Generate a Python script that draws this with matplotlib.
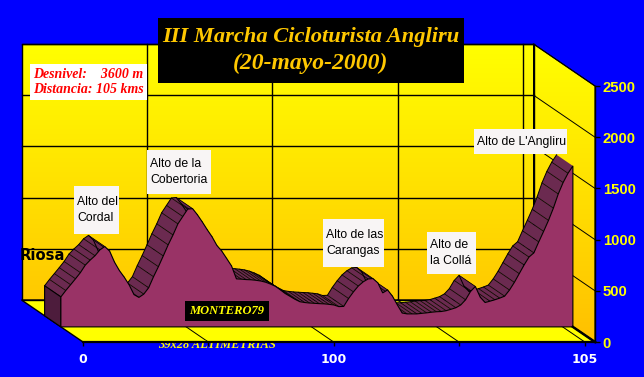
import numpy as np
import matplotlib
matplotlib.use('Agg')
import matplotlib.pyplot as plt
from matplotlib.colors import LinearSegmentedColormap
from matplotlib.patches import Polygon, Rectangle

# profile, one value per km (0 to 105)
km = list(range(106))
elev = [293, 355, 412, 470, 530, 603, 652, 695, 752, 785,
        740, 632, 550, 485, 410, 315, 288, 320, 382, 490,
        588, 693, 801, 898, 1006, 1078, 1150, 1155, 1095, 1025,
        950, 880, 795, 740, 668, 595, 469, 466, 462, 460,
        455, 448, 436, 418, 396, 362, 326, 298, 270, 246,
        238, 233, 230, 227, 225, 220, 214, 198, 200, 277,
        342, 399, 440, 468, 472, 430, 332, 361, 300, 215,
        135, 127, 127, 127, 132, 137, 143, 148, 150, 158,
        172, 187, 214, 265, 345, 395, 290, 238, 251, 265,
        281, 300, 360, 435, 520, 605, 682, 723, 830, 933,
        1040, 1160, 1298, 1410, 1500, 1572]

x_ticks = [0, 25.7, 51.4, 77.1, 102.9]
x_labels = ['0', '', '100', '', '105']
y_ticks = [0, 500, 1000, 1500, 2000, 2500]

W, H = 644, 377
KM_MAX, ELEV_MAX = 105, 2500
# oblique depth: how far the back wall is shifted from the front plane
DEPTH_KM = -12.6
DEPTH_ELEV = 410
D_FRONT = 0.36    # front of the ribbon
D_BACK = 0.625    # back of the ribbon


def proj(x, y, d):
    return np.asarray(x) + d*DEPTH_KM, np.asarray(y) + d*DEPTH_ELEV


def px_x(p):
    return p/W


def px_y(p):
    return 1 - p/H


def box(px0, py0, px1, py1, color):
    fig.add_artist(Rectangle((px_x(px0), px_y(py1)), (px1-px0)/W, (py1-py0)/H, transform=fig.transFigure,
                             facecolor=color, edgecolor='none', zorder=3))


def label(px, py, s, **kw):
    fig.text(px_x(px), px_y(py), s, zorder=4, **kw)


fig = plt.figure(figsize=(W/100, H/100), dpi=100, facecolor='#0000FF')
ax = fig.add_axes([px_x(83), px_y(342), (595-83)/W, (342-86)/H])
ax.patch.set_visible(False)

# ---- walls and floor
wall_cmap = LinearSegmentedColormap.from_list('wall', ['#FFFF00', '#FFC000'])
grad = np.linspace(0, 1, 256).reshape(-1, 1)
back_x, back_y = proj([0, KM_MAX, KM_MAX, 0], [0, 0, ELEV_MAX, ELEV_MAX], 1)
back_wall = Polygon(np.c_[back_x, back_y], transform=ax.transData, fill=False, edgecolor='k', lw=1.0, zorder=1.5, clip_on=False)
side_x = [KM_MAX, KM_MAX, KM_MAX + DEPTH_KM, KM_MAX + DEPTH_KM]
side_y = [0, ELEV_MAX, ELEV_MAX + DEPTH_ELEV, DEPTH_ELEV]
side_wall = Polygon(np.c_[side_x, side_y], transform=ax.transData, fill=False, edgecolor='k', lw=0.8, zorder=1.5, clip_on=False)
ax.add_patch(back_wall)
ax.add_patch(side_wall)

full_extent = [DEPTH_KM, KM_MAX, 0, ELEV_MAX + DEPTH_ELEV]
for wall in (back_wall, side_wall):
    im = ax.imshow(grad, extent=full_extent, aspect='auto', cmap=wall_cmap, origin='upper', zorder=1)
    im.set_clip_box(fig.bbox)
    im.set_clip_path(wall)

back_fx, back_fy = proj([KM_MAX, 0], [0, 0], 1)
ax.add_patch(Polygon(np.c_[[0, KM_MAX, back_fx[0], back_fx[1]], [0, 0, back_fy[0], back_fy[1]]],
                     facecolor='#FFFF00', edgecolor='k', lw=1.0, zorder=1.4, clip_on=False))

# ---- grid on the three planes
for t in y_ticks[1:]:
    bx, by = proj([0, KM_MAX], [t, t], 1)
    ax.plot(bx, by, color='k', lw=1.0, zorder=2, clip_on=False)
    ax.plot([KM_MAX, KM_MAX + DEPTH_KM], [t, t + DEPTH_ELEV], color='k', lw=0.7, zorder=2, clip_on=False)
for t in x_ticks[1:]:
    bx, by = proj([t, t], [0, ELEV_MAX], 1)
    ax.plot(bx, by, color='k', lw=1.0, zorder=2, clip_on=False)
    ax.plot([t, t + DEPTH_KM], [0, DEPTH_ELEV], color='k', lw=0.7, zorder=2, clip_on=False)

# ---- 3d area series
fx, fy = proj(km, elev, D_FRONT)
rx, ry = proj(km, elev, D_BACK)
for i in range(0, len(km) - 1):
    quad = np.c_[[fx[i], fx[i+1], rx[i+1], rx[i]], [fy[i], fy[i+1], ry[i+1], ry[i]]]
    ax.add_patch(Polygon(quad, facecolor='#6B2A50', edgecolor='none', zorder=2.5, clip_on=False))
    ax.plot([fx[i], rx[i]], [fy[i], ry[i]], color='k', lw=0.55, zorder=2.55, clip_on=False)
ax.plot(rx, ry, color='k', lw=0.7, zorder=2.55, clip_on=False)

base_fx, base_fy = proj([km[-1], km[0]], [0, 0], D_FRONT)
base_rx, base_ry = proj([km[0]], [0], D_BACK)
ax.add_patch(Polygon(np.c_[[fx[0], rx[0], base_rx[0], base_fx[1]], [fy[0], ry[0], base_ry[0], base_fy[1]]],
                     facecolor='#4D1C3C', edgecolor='k', lw=0.8, zorder=2.6, clip_on=False))
ax.add_patch(Polygon(np.c_[np.r_[fx, base_fx], np.r_[fy, base_fy]],
                     facecolor='#993366', edgecolor='k', lw=0.8, zorder=2.7, clip_on=False))

# thick edge at bottom right, floor
ax.plot([KM_MAX, base_fx[0]], [0, base_fy[0]], color='k', lw=1.8, zorder=2.8, clip_on=False)

ax.text(px_x(217), px_y(345), '39x28 ALTIMETRÍAS', transform=fig.transFigure, color='#FFFF00', ha='center', va='center',
        family='Liberation Serif', style='italic', weight='bold', fontsize=9, zorder=2.9, clip_on=False)

# ---- axes
ax.set_xlim(0, KM_MAX)
ax.set_ylim(0, ELEV_MAX)
ax.yaxis.tick_right()
ax.set_xticks(x_ticks)
ax.set_xticklabels(x_labels, color='white', family='DejaVu Sans', weight='bold', fontsize=9)
ax.set_yticks(y_ticks)
ax.set_yticklabels([str(t) for t in y_ticks], color='#FFFF00', family='Liberation Sans', weight='bold', fontsize=10.7)
ax.tick_params(axis='x', length=3, width=1, color='k', pad=5)
ax.tick_params(axis='y', length=3.5, width=1, color='k', pad=2)
ax.spines['left'].set_visible(False)
ax.spines['top'].set_visible(False)
ax.spines['right'].set_linewidth(1.0)
ax.spines['bottom'].set_linewidth(1.6)
for sp in ax.spines.values():
    sp.set_zorder(3)

# ---- title and notes
box(158, 18, 464, 83, '#000000')
title_kw = dict(family='Liberation Serif', style='italic', weight='bold', color='#FFC800', ha='center', va='center')
label(311, 37, 'III Marcha Cicloturista Angliru', fontsize=16.2, **title_kw)
label(311, 63, '(20-mayo-2000)', fontsize=17, **title_kw)

box(30, 64, 147, 100, '#FFFFFF')
note_kw = dict(family='Liberation Serif', style='italic', weight='bold', color='#FF0000', ha='left', va='center', fontsize=10)
label(33, 75, 'Desnivel:    3600 m', **note_kw)
label(33, 89.5, 'Distancia: 105 kms', **note_kw)

box(185, 301, 269, 321, '#000000')
label(227, 311, 'MONTERO79', family='Liberation Serif', style='italic', weight='bold', color='#FFFF00',
      ha='center', va='center', fontsize=9)

label(20, 256, 'Riosa', family='DejaVu Sans', weight='bold', color='k', ha='left', va='center', fontsize=10.6)

# ---- pass labels
peak_names = [('Alto del\nCordal', 74, 186, 119, 234),
              ('Alto de la\nCobertoria', 147, 150, 211, 194),
              ('Alto de las\nCarangas', 323, 219, 384, 267),
              ('Alto de\nla Collá', 427, 232, 476, 274),
              ("Alto de L'Angliru", 474, 129, 567, 154)]
for name, x0, y0, x1, y1 in peak_names:
    box(x0, y0, x1, y1, '#F8F5F5')
    label(x0 + 3, (y0 + y1)/2, name, family='Liberation Sans', color='k',
          ha='left', va='center', fontsize=8.8, linespacing=1.5)

fig.savefig('out.png', dpi=100, facecolor=fig.get_facecolor())
